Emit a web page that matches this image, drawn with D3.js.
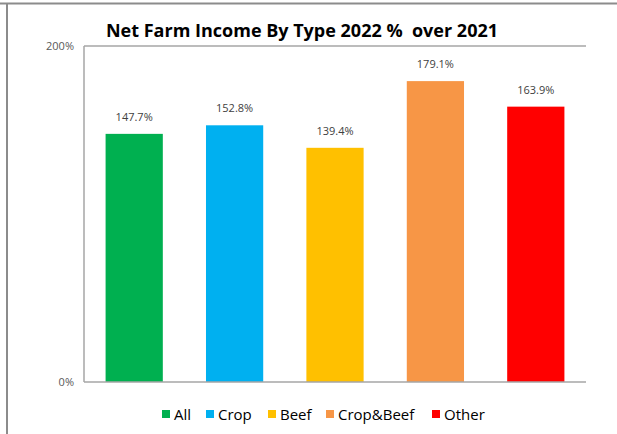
<!DOCTYPE html>
<html>
<head>
<meta charset="utf-8">
<script src="https://cdnjs.cloudflare.com/ajax/libs/d3/7.8.5/d3.min.js"></script>
<style>
  body { margin: 0; background: #fff; }
  text { font-family: "Open Sans", "Noto Sans", sans-serif; }
</style>
</head>
<body>
<script>
'use strict';

// Chart data
var categories = ["All", "Crop", "Beef", "Crop&Beef", "Other"];
var values = [147.7, 152.8, 139.4, 179.1, 163.9];
var colors = ["#00b050", "#00b0f0", "#ffc000", "#f79646", "#ff0000"];
var yTicks = [0, 200];

(function() {
  var width = 617;
  var height = 434;

  var svg = d3.select("body")
      .append("svg")
      .attr("width", width)
      .attr("height", height);

  // Outer chart frame (top and left edges visible)
  svg.append("line")
      .attr("x1", 0).attr("x2", width)
      .attr("y1", 3.5).attr("y2", 3.5)
      .attr("stroke", "#8c8c8c").attr("stroke-width", 2);
  svg.append("line")
      .attr("x1", 7).attr("x2", 7)
      .attr("y1", 3).attr("y2", height)
      .attr("stroke", "#8c8c8c").attr("stroke-width", 2);

  var plot = { left: 84, right: 586, top: 46, bottom: 382 };

  var x = d3.scaleBand()
      .domain(categories)
      .range([plot.left, plot.right])
      .paddingInner(0.43)
      .paddingOuter(0.215);

  var y = d3.scaleLinear()
      .domain([0, 200])
      .range([plot.bottom, plot.top]);

  // Title
  svg.append("text")
      .attr("x", 302)
      .attr("y", 37)
      .attr("text-anchor", "middle")
      .attr("font-size", 18)
      .attr("font-weight", "bold")
      .attr("fill", "#000")
      .text("Net Farm Income By Type 2022 %\u00a0\u00a0over 2021");

  // Plot area border lines
  svg.append("line")
      .attr("x1", plot.left).attr("x2", plot.right)
      .attr("y1", plot.top).attr("y2", plot.top)
      .attr("stroke", "#a6a6a6").attr("stroke-width", 1.5);
  svg.append("line")
      .attr("x1", plot.left).attr("x2", plot.left)
      .attr("y1", plot.top).attr("y2", plot.bottom)
      .attr("stroke", "#a6a6a6").attr("stroke-width", 1.5);

  // Y axis labels
  var yAxis = d3.axisLeft(y)
      .tickValues(yTicks)
      .tickSize(0)
      .tickPadding(10)
      .tickFormat(function(d) { return d + "%"; });
  var ga = svg.append("g")
      .attr("transform", "translate(" + plot.left + ",0)")
      .call(yAxis);
  ga.select(".domain").remove();
  ga.selectAll("text")
      .attr("font-size", 11)
      .attr("fill", "#595959")
      .style("font-family", "\"Open Sans\", sans-serif");

  // Bars
  svg.selectAll(".bar")
      .data(values)
      .enter()
      .append("rect")
      .attr("class", "bar")
      .attr("x", function(d, i) { return x(categories[i]); })
      .attr("y", function(d) { return y(d); })
      .attr("width", x.bandwidth())
      .attr("height", function(d) { return y(0) - y(d); })
      .attr("fill", function(d, i) { return colors[i]; });

  // Value labels
  svg.selectAll(".lbl")
      .data(values)
      .enter()
      .append("text")
      .attr("class", "lbl")
      .attr("x", function(d, i) { return x(categories[i]) + x.bandwidth() / 2; })
      .attr("y", function(d) { return y(d) - 13; })
      .attr("text-anchor", "middle")
      .attr("font-size", 11)
      .attr("fill", "#404040")
      .text(function(d) { return d.toFixed(1) + "%"; });

  // Bottom axis line
  svg.append("line")
      .attr("x1", plot.left).attr("x2", plot.right)
      .attr("y1", plot.bottom).attr("y2", plot.bottom)
      .attr("stroke", "#a6a6a6").attr("stroke-width", 1.5);

  // Legend
  var legendX = [162, 206, 268, 326, 432];
  var lg = svg.selectAll(".leg")
      .data(categories)
      .enter()
      .append("g")
      .attr("class", "leg")
      .attr("transform", function(d, i) { return "translate(" + legendX[i] + ",414)"; });
  lg.append("rect")
      .attr("x", 0).attr("y", -4)
      .attr("width", 8).attr("height", 8)
      .attr("fill", function(d, i) { return colors[i]; });
  lg.append("text")
      .attr("x", 12)
      .attr("y", 5.5)
      .attr("font-size", 15)
      .attr("fill", "#000")
      .text(function(d) { return d; });
})();
</script>
</body>
</html>
